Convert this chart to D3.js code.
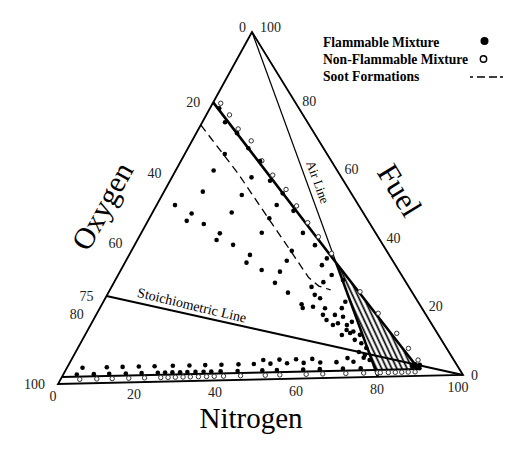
<!DOCTYPE html>
<html><head><meta charset="utf-8">
<script src="https://cdn.jsdelivr.net/npm/d3@7"></script>
<style>body{margin:0;background:#fff}svg{display:block}</style>
</head><body>
<svg id="c" width="506" height="451"></svg>
<script>
// ---- data (percent: [fuel, oxygen]; nitrogen = 100 - fuel - oxygen) ----
const fuelTicks = [0, 20, 40, 60, 80, 100];
const oxygenTicks = [0, 20, 40, 60, 75, 80, 100];
const nitrogenTicks = [0, 20, 40, 60, 80, 100];

const flammableUFL = [[78.3,19.4],[74.2,20.1],[71.0,18.8],[66.6,18.3],[62.8,17.4],[57.1,17.9],[53.4,16.7],[48.3,16.7],[41.9,17.7],[38.3,16.6],[34.4,15.7]];
const flammableUpper = [[50.7,44.7],[48.2,41.9],[46.1,44.2],[54.4,35.9],[60.4,30.1],[65.1,24.9],[45.1,40.5],[42.3,38.0],[40.4,39.8],[48.2,32.0],[53.2,26.9],[58.2,21.9],[38.9,36.5],[35.9,33.9],[33.7,35.9],[42.2,27.7],[46.3,23.7],[50.1,19.9],[31.5,33.3],[30.9,29.1],[27.7,32.0],[34.0,25.8],[36.8,23.1],[24.8,30.3]];
const flammableCluster = [[32.5,17.9],[29.6,17.0],[28.1,15.0],[26.3,23.7],[27.6,20.1],[21.8,17.7],[20.0,19.5],[18.1,22.2],[17.5,20.5],[15.7,22.7],[15.1,20.8],[16.0,19.1],[13.2,20.2],[12.2,19.1],[10.8,21.1],[9.8,20.0],[8.4,19.5],[20.1,23.6],[16.7,25.0],[24.0,24.1],[21.4,28.7],[20.3,29.0],[20.6,26.3],[23.0,23.3],[18.2,25.1],[12.8,21.2],[13.7,21.6],[15.2,24.2],[12.3,23.5],[6.4,20.9],[4.9,20.5],[7.3,21.9],[2.9,11.1],[2.3,10.2],[3.2,9.0],[2.8,10.5],[2.2,9.6],[3.4,10.0]];
const flammableRowFuel = 4.5;
const flammableRowOxygen = [91.6,85.6,81.7,77.7,73.8,69.3,65.2,61.3,57.3,53.1,49.3,45.2,41.1,37.0,32.9,28.9,24.7];
const flammableRow2Fuel = 5.6;
const flammableRow2Oxygen = [46.4,42.4,38.3,34.3,25.6,21.6];
const flammableLowFuel = 2.6;
const lowRowOxygen = [94.0,89.8,86.0,81.9,78.0,74.0,72.2,70.4,68.5,66.7,64.7,62.7,60.8,58.5,54.3,48.2,44.6,38.1,34.0,28.3,23.9];
const nonFlammableLowFuel = 1.2;
const nonFlammableHatchOxygen = [20.5,19.8,17.8,16.1,14.5,12.9,11.2];
const nonFlammableUFL = [[79.7,18.3],[76.3,17.9],[72.2,17.9],[68.7,16.5],[62.9,16.9],[58.7,16.4],[54.5,15.3],[49.7,15.2],[44.8,15.0],[40.7,14.5],[35.8,13.8],[24.6,12.6],[18.3,11.4],[12.4,9.9],[8.0,9.3],[4.6,8.7]];

const sootLine = [[73.6,26.4],[59.4,24.6],[45.8,23.9],[37.1,23.4],[29.0,23.0],[26.5,21.8],[25.3,19.5]];
const uflLine = [[80,20],[33,14.1],[2,9.9]];
const airLineThin = [[100,0],[33,14.1]];
const airLineThick = [[33,14.1],[0,21]];
const stoichLine = [[25,75],[0,0]];
const lflLine = [[2,98],[2,9.9]];
const hatchRegion = [[33,14.1],[2,9.9],[2,20.58]];

// ---- geometry ----
const svg = d3.select('#c');
const frac = d3.scaleLinear().domain([0,100]).range([0,1]);
const V = {F:[252,32], O:[58,384], N:[463,375]};
function proj(f,o){
  const a=frac(f), b=frac(o), c=frac(100-f-o);
  return [a*V.F[0]+b*V.O[0]+c*V.N[0], a*V.F[1]+b*V.O[1]+c*V.N[1]];
}
const line = d3.line().x(d=>proj(d[0],d[1])[0]).y(d=>proj(d[0],d[1])[1]);
const serif = "'Liberation Serif','Times New Roman',serif";

// hatch pattern
const defs = svg.append('defs');
const pat = defs.append('pattern').attr('id','hatch').attr('patternUnits','userSpaceOnUse')
  .attr('width',4.6).attr('height',10).attr('patternTransform','rotate(-25)');
pat.append('line').attr('x1',1.5).attr('y1',0).attr('x2',1.5).attr('y2',10).attr('stroke','#000').attr('stroke-width',1.7);

svg.append('path').attr('d', line(hatchRegion)+'Z').attr('fill','url(#hatch)');

// triangle
svg.append('path').attr('d', line([[100,0],[0,100],[0,0]])+'Z')
  .attr('fill','none').attr('stroke','#000').attr('stroke-width',1.8).attr('stroke-linejoin','miter');

// lines
svg.append('path').attr('d',line(airLineThin)).attr('fill','none').attr('stroke','#000').attr('stroke-width',1.2);
svg.append('path').attr('d',line(airLineThick)).attr('fill','none').attr('stroke','#000').attr('stroke-width',2.6);
svg.append('path').attr('d',line(uflLine)).attr('fill','none').attr('stroke','#000').attr('stroke-width',2.6);
svg.append('path').attr('d',line(stoichLine)).attr('fill','none').attr('stroke','#000').attr('stroke-width',2);
svg.append('path').attr('d',line(lflLine)).attr('fill','none').attr('stroke','#000').attr('stroke-width',2);
svg.append('path').attr('d',line(sootLine)).attr('fill','none').attr('stroke','#000').attr('stroke-width',1.3).attr('stroke-dasharray','8,5');

// points
const filled = [].concat(
  flammableUFL, flammableUpper, flammableCluster,
  flammableRowOxygen.map(o=>[flammableRowFuel,o]),
  flammableRow2Oxygen.map(o=>[flammableRow2Fuel,o]),
  lowRowOxygen.map(o=>[flammableLowFuel,o])
);
const open = [].concat(
  nonFlammableUFL,
  lowRowOxygen.map(o=>[nonFlammableLowFuel,o]),
  nonFlammableHatchOxygen.map(o=>[nonFlammableLowFuel,o])
);
svg.append('g').selectAll('circle').data(open).join('circle')
  .attr('cx',d=>proj(d[0],d[1])[0]).attr('cy',d=>proj(d[0],d[1])[1])
  .attr('r',2.2).attr('fill','#fff').attr('stroke','#333').attr('stroke-width',1);
svg.append('g').selectAll('circle').data(filled).join('circle')
  .attr('cx',d=>proj(d[0],d[1])[0]).attr('cy',d=>proj(d[0],d[1])[1])
  .attr('r',2.3).attr('fill','#000');

// tick labels
const tl = svg.append('g').attr('font-family',serif).attr('font-size',14).attr('fill','#222');
fuelTicks.forEach(t=>{
  const p=proj(t,0);
  tl.append('text').attr('x',p[0]+8).attr('y',p[1]+(t===100?0:5)).attr('text-anchor','start').text(t);
});
oxygenTicks.forEach(t=>{
  const p=proj(100-t,t);
  tl.append('text').attr('x',p[0]-(t===0?6:13)).attr('y',p[1]+(t===0?0:5)).attr('text-anchor','end').text(t);
});
nitrogenTicks.forEach(t=>{
  const p=proj(0,100-t);
  tl.append('text').attr('x',p[0]-5).attr('y',p[1]+17).attr('text-anchor','middle').text(t);
});

// axis titles
svg.append('text').attr('font-family',serif).attr('font-size',29).attr('text-anchor','middle')
  .attr('x',251).attr('y',428).text('Nitrogen');
svg.append('text').attr('font-family',serif).attr('font-size',30).attr('text-anchor','middle')
  .attr('transform','translate(102,206) rotate(-61)').attr('dy','0.35em').text('Oxygen');
svg.append('text').attr('font-family',serif).attr('font-size',31).attr('text-anchor','middle')
  .attr('transform','translate(400,190) rotate(58.5)').attr('dy','0.35em').text('Fuel');

// line labels
svg.append('text').attr('font-family',serif).attr('font-size',13).attr('text-anchor','middle')
  .attr('transform','translate(318,182) rotate(70)').attr('dy','0.35em').text('Air Line');
svg.append('text').attr('font-family',serif).attr('font-size',14).attr('text-anchor','middle')
  .attr('transform','translate(192,305) rotate(13.5)').attr('dy','0.35em').text('Stoichiometric Line');

// legend
const lg = svg.append('g').attr('font-family',serif).attr('font-size',13.6).attr('font-weight','bold');
lg.append('text').attr('x',323).attr('y',47).text('Flammable Mixture');
lg.append('text').attr('x',323).attr('y',63.5).text('Non-Flammable Mixture');
lg.append('text').attr('x',323).attr('y',80.5).text('Soot Formations');
svg.append('circle').attr('cx',484.5).attr('cy',41).attr('r',4).attr('fill','#000');
svg.append('circle').attr('cx',483.5).attr('cy',59).attr('r',3.2).attr('fill','#fff').attr('stroke','#000').attr('stroke-width',1.4);
svg.append('line').attr('x1',470).attr('y1',77).attr('x2',503).attr('y2',77).attr('stroke','#000').attr('stroke-width',1.4).attr('stroke-dasharray','3,4,8,4,8');
</script>
</body></html>
